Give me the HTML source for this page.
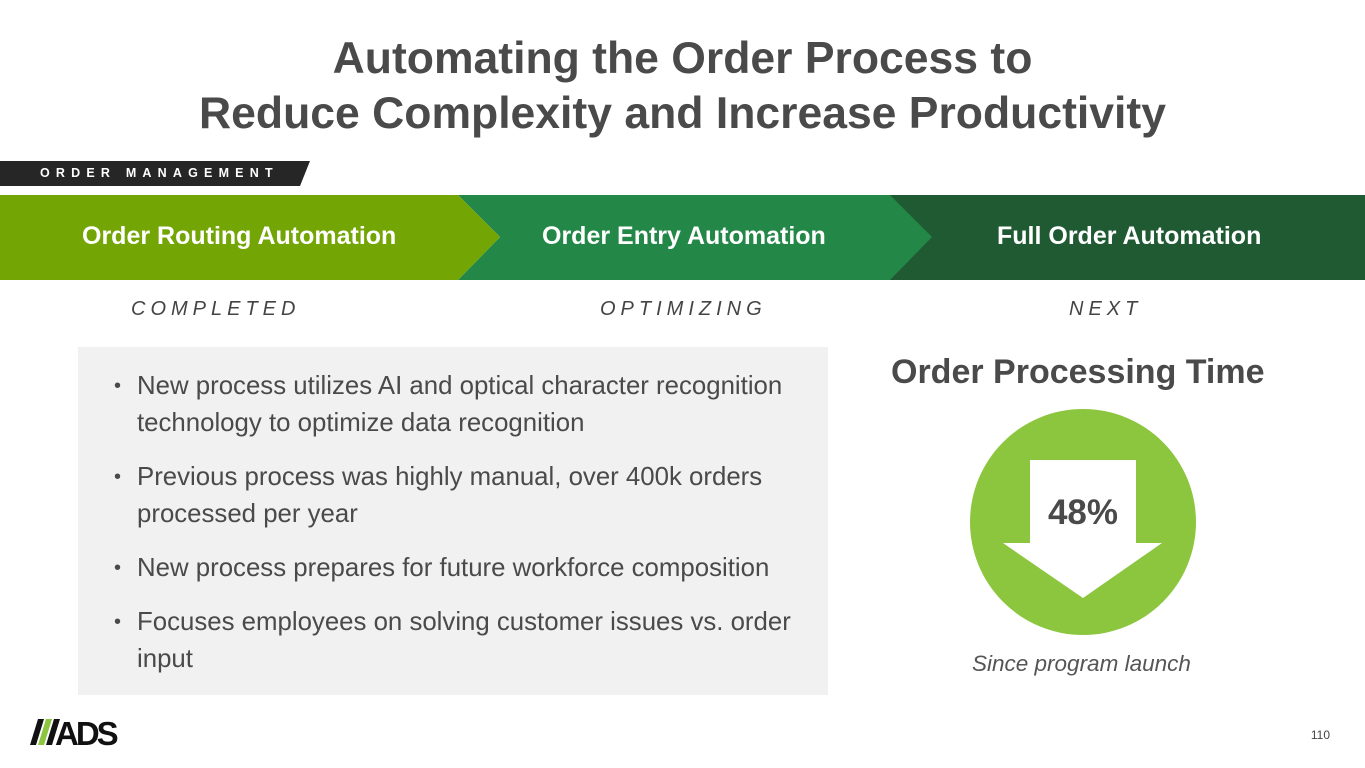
<!DOCTYPE html>
<html><head><meta charset="utf-8"><style>
body{margin:0;width:1365px;height:768px;position:relative;background:#fff;font-family:"Liberation Sans",Arial,sans-serif;overflow:hidden}
.t{position:absolute;left:0;width:1365px;text-align:center;font-weight:bold;color:#4a4a4a;font-size:44.5px;line-height:56px}
.a{position:absolute;white-space:nowrap}
.st{position:absolute;top:298px;font-style:italic;color:#444;font-size:20px;letter-spacing:5px}
.box{position:absolute;left:78px;top:347px;width:750px;height:348px;background:#f1f1f1}
.li{position:absolute;left:137px;width:690px;font-size:25.8px;line-height:37px;color:#4a4a4a;white-space:nowrap}
.li:before{content:"•";position:absolute;left:-23px;font-size:20px}
.band{position:absolute;top:222px;color:#fff;font-weight:bold;font-size:25px;white-space:nowrap}
</style></head><body>
<div class="t" style="top:31px">Automating the Order Process to</div>
<div class="t" style="top:86px">Reduce Complexity and Increase Productivity</div>
<svg class="a" style="left:0;top:0" width="1365" height="300">
<polygon points="0,161 310,161 300,186 0,186" fill="#262626"/>
<rect x="890" y="195" width="475" height="85" fill="#1f5a33"/>
<polygon points="458,195 890,195 932,237 890,280 458,280 500,237" fill="#238847"/>
<polygon points="0,195 458,195 500,237 458,280 0,280" fill="#73a505"/>
</svg>
<div class="a" style="left:40px;top:166px;color:#fff;font-weight:bold;font-size:12.5px;letter-spacing:6.2px">ORDER MANAGEMENT</div>
<div class="band" style="left:82px">Order Routing Automation</div>
<div class="band" style="left:542px">Order Entry Automation</div>
<div class="band" style="left:997px">Full Order Automation</div>
<div class="st" style="left:131px">COMPLETED</div>
<div class="st" style="left:600px">OPTIMIZING</div>
<div class="st" style="left:1069px">NEXT</div>
<div class="box"></div>
<div class="li" style="top:368px">New process utilizes AI and optical character recognition<br>technology to optimize data recognition</div>
<div class="li" style="top:459px">Previous process was highly manual, over 400k orders<br>processed per year</div>
<div class="li" style="top:550px">New process prepares for future workforce composition</div>
<div class="li" style="top:604px">Focuses employees on solving customer issues vs. order<br>input</div>
<div class="a" style="left:891px;top:353px;font-weight:bold;font-size:34px;color:#4a4a4a">Order Processing Time</div>
<svg class="a" style="left:0;top:0" width="1365" height="768">
<circle cx="1083" cy="522" r="113" fill="#8cc63f"/>
<polygon points="1030,460 1136,460 1136,543 1162,543 1083,598 1003,543 1030,543" fill="#fff"/>
<text x="1083" y="524" text-anchor="middle" font-family="Liberation Sans" font-weight="bold" font-size="35" fill="#4a4a4a">48%</text>
<polygon points="30,745 36,745 44,719 38,719" fill="#111"/>
<polygon points="38,745 44,745 52,719 46,719" fill="#8cc63f"/>
<polygon points="46,745 52,745 60,719 54,719" fill="#111"/>
<text x="55" y="745" font-family="Liberation Sans" font-weight="bold" font-size="33" fill="#111" letter-spacing="-3">ADS</text>
<text x="1330" y="739" font-family="Liberation Sans" font-size="12" fill="#444" text-anchor="end">110</text>
</svg>
<div class="a" style="left:972px;top:651px;font-style:italic;font-size:22.5px;color:#555">Since program launch</div>
</body></html>
